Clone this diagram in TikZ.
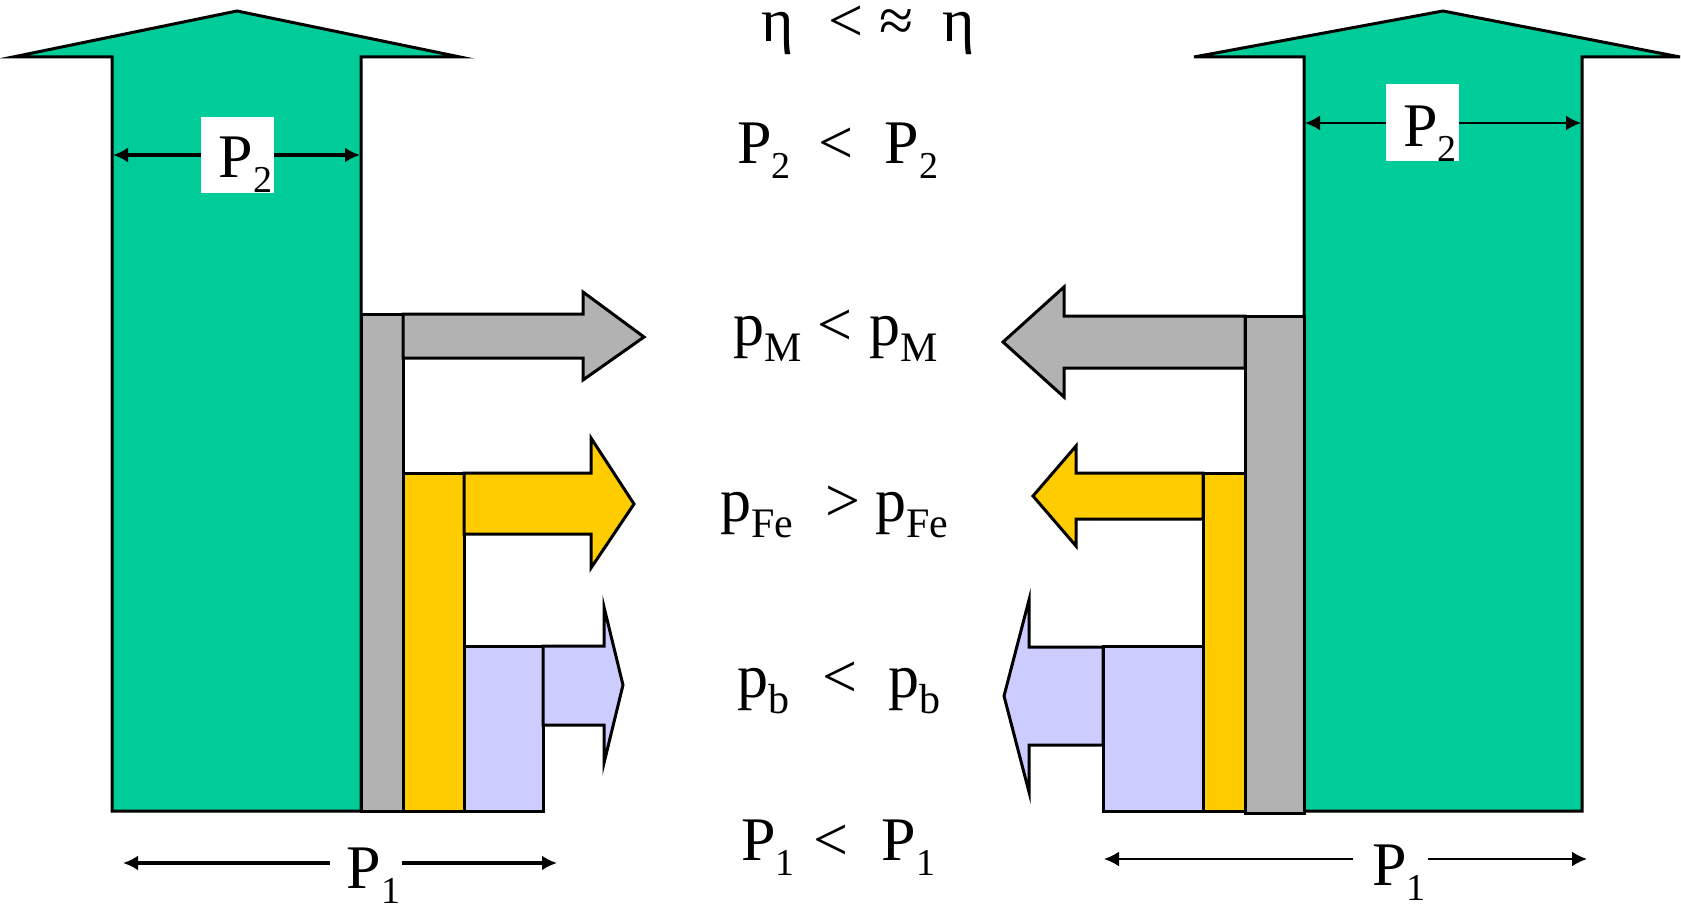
\documentclass[tikz,border=0pt]{standalone}
\usepackage{fontspec}
\setmainfont{Liberation Serif}
\usetikzlibrary{arrows.meta}
\definecolor{cgreen}{RGB}{0,204,153}
\definecolor{cgray}{RGB}{178,178,178}
\definecolor{cyellow}{RGB}{255,204,0}
\definecolor{cblue}{RGB}{204,204,255}
\newcommand{\lowidx}[1]{\raisebox{-15pt}{\fontsize{38}{38}\selectfont #1}}
\newcommand{\lowlet}[1]{\raisebox{-16pt}{\fontsize{42}{42}\selectfont #1}}
\begin{document}
\begin{tikzpicture}[x=1pt,y=-1pt,
  body/.style={draw=black, line width=3pt, line join=miter},
  dimline/.style={{Latex[length=15pt,width=15pt]}-{Latex[length=15pt,width=15pt]}, line width=3.5pt},
  thindim/.style={dimline, line width=2.2pt},
  big/.style={font=\fontsize{62}{70}\selectfont, inner sep=0pt},
  eqline/.style={big, anchor=base west},
  dimlabel/.style={big, fill=white, anchor=base}
]
\useasboundingbox (0,0) rectangle (1681,904);

% ---------- left machine ----------
\draw[body, fill=cgreen] (13,57) -- (237,11) -- (460,57) -- (361,57) -- (361,811) -- (112,811) -- (112,57) -- cycle;
\draw[body, fill=cgray] (361,314) rectangle (403,811);
\draw[body, fill=cgray] (403,314) -- (583,314) -- (583,292) -- (644,337) -- (583,380) -- (583,358) -- (403,358) -- cycle;
\draw[body, fill=cyellow] (403,473) rectangle (464,811);
\draw[body, fill=cyellow] (464,473) -- (591,473) -- (591,438) -- (634,504) -- (591,568) -- (591,534) -- (464,534) -- cycle;
\draw[body, fill=cblue] (464,646) rectangle (543,811);
\draw[body, fill=cblue] (543,646) -- (604,646) -- (604,607) -- (623,685) -- (604,763) -- (604,725) -- (543,725) -- cycle;

% ---------- right machine ----------
\draw[body, fill=cgreen] (1194,57) -- (1443,11) -- (1680,57) -- (1582,57) -- (1582,811) -- (1304,811) -- (1304,57) -- cycle;
\draw[body, fill=cgray] (1245,316) rectangle (1304,813);
\draw[body, fill=cgray] (1245,316) -- (1064,316) -- (1064,287) -- (1003,342) -- (1064,397) -- (1064,368) -- (1245,368) -- cycle;
\draw[body, fill=cyellow] (1203,473) rectangle (1245,811);
\draw[body, fill=cyellow] (1203,473) -- (1076,473) -- (1076,446) -- (1033,496) -- (1076,546) -- (1076,519) -- (1203,519) -- cycle;
\draw[body, fill=cblue] (1103,646) rectangle (1203,811);
\draw[body, fill=cblue] (1103,647) -- (1029,647) -- (1029,600) -- (1004,696) -- (1029,792) -- (1029,745) -- (1103,745) -- cycle;

% ---------- dimension arrows ----------
\coordinate (lp2a) at (113,155);
\coordinate (lp2b) at (360,155);
\draw[dimline] (lp2a) -- (lp2b);
\node[dimlabel, minimum width=73pt, text height=61pt, text depth=15pt] (lp2) at (237.5,178) {\hspace{16pt}P\lowidx{2}};

\coordinate (rp2a) at (1305,123);
\coordinate (rp2b) at (1581,123);
\draw[thindim] (rp2a) -- (rp2b);
\node[dimlabel, minimum width=73pt, text height=63pt, text depth=14pt] (rp2) at (1422.5,147) {\hspace{15pt}P\lowidx{2}};

\coordinate (lp1a) at (123,863);
\coordinate (lp1b) at (557,863);
\draw[dimline] (lp1a) -- (lp1b);
\node[dimlabel, minimum width=72pt, text height=41pt, text depth=15pt] (lp1) at (366,888) {\hspace{15pt}P\lowidx{1}};

\coordinate (rp1a) at (1104,859);
\coordinate (rp1b) at (1587,859);
\draw[thindim] (rp1a) -- (rp1b);
\node[dimlabel, minimum width=75pt, text height=41pt, text depth=15pt] (rp1) at (1390.5,885) {\hspace{17pt}P\lowidx{1}};

% ---------- comparison lines ----------
\node[eqline] (eta) at (761,42) {η\hspace{35pt}<\hspace{16pt}≈\hspace{29pt}η};
\node[eqline] (ptwo) at (737,164) {P\lowidx{2}\hspace{28pt}<\hspace{31pt}P\lowidx{2}};
\node[eqline] (pm) at (733,345) {p\lowlet{M}\hspace{16pt}<\hspace{17pt}p\lowlet{M}};
\node[eqline] (pfe) at (720,521) {p\lowlet{Fe}\hspace{32pt}>\hspace{15pt}p\lowlet{Fe}};
\node[eqline] (pb) at (737,697) {p\lowlet{b}\hspace{33pt}<\hspace{31pt}p\lowlet{b}};
\node[eqline] (pone) at (741,860) {P\lowidx{1}\hspace{19pt}<\hspace{33pt}P\lowidx{1}};
\end{tikzpicture}
\end{document}
